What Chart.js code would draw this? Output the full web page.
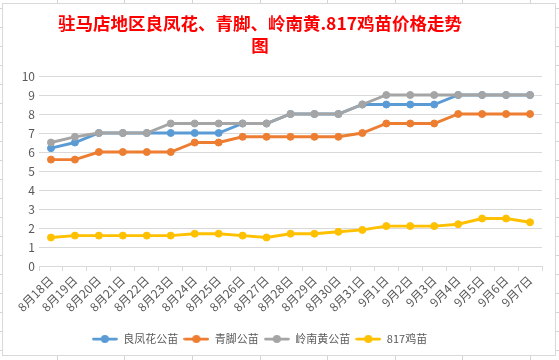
<!DOCTYPE html>
<html>
<head>
<meta charset="utf-8">
<script src="https://cdn.jsdelivr.net/npm/chart.js@4/dist/chart.umd.min.js"></script>
<style>
  html, body { margin: 0; padding: 0; }
  body {
    width: 559px; height: 360px; overflow: hidden; position: relative;
    background-color: #fff;
    background-image:
      repeating-linear-gradient(90deg, transparent 0, transparent 57px, #d4d4d4 57px, #d4d4d4 58px, transparent 58px, transparent 67.5px),
      repeating-linear-gradient(180deg, transparent 0, transparent 8px, #d4d4d4 8px, #d4d4d4 9px, transparent 9px, transparent 19px);
  }
  #box {
    position: absolute; left: 2px; top: 3px; width: 554px; height: 353px;
    box-sizing: border-box; border: 1px solid #d9d9d9; background: #fff;
  }
  #c { display: block; }
</style>
</head>
<body>
<div id="box"><canvas id="c" width="552" height="351"></canvas></div>
<script>
const categories = ["8月18日","8月19日","8月20日","8月21日","8月22日","8月23日","8月24日","8月25日","8月26日","8月27日","8月28日","8月29日","8月30日","8月31日","9月1日","9月2日","9月3日","9月4日","9月5日","9月6日","9月7日"];
const liangfenghua = [6.2,6.5,7,7,7,7,7,7,7.5,7.5,8,8,8,8.5,8.5,8.5,8.5,9,9,9,9];
const qingjiao     = [5.6,5.6,6,6,6,6,6.5,6.5,6.8,6.8,6.8,6.8,6.8,7,7.5,7.5,7.5,8,8,8,8];
const lingnanhuang = [6.5,6.8,7,7,7,7.5,7.5,7.5,7.5,7.5,8,8,8,8.5,9,9,9,9,9,9,9];
const ji817        = [1.5,1.6,1.6,1.6,1.6,1.6,1.7,1.7,1.6,1.5,1.7,1.7,1.8,1.9,2.1,2.1,2.1,2.2,2.5,2.5,2.3];
const seriesNames = ["良凤花公苗","青脚公苗","岭南黄公苗","817鸡苗"];
const seriesColors = ["#5B9BD5","#ED7D31","#A5A5A5","#FFC000"];
const titleLines = ["驻马店地区良凤花、青脚、岭南黄.817鸡苗价格走势","图"];
const yTicks = [0,1,2,3,4,5,6,7,8,9,10];

const FONT = '"Noto Sans CJK SC", "Microsoft YaHei", sans-serif';

function legendIcon(color) {
  const cv = document.createElement('canvas');
  cv.width = 26; cv.height = 10;
  const x = cv.getContext('2d');
  x.strokeStyle = color; x.lineWidth = 2.75; x.lineCap = 'round';
  x.beginPath(); x.moveTo(1.5, 5); x.lineTo(24.5, 5); x.stroke();
  x.fillStyle = color;
  x.beginPath(); x.arc(13, 5, 4, 0, Math.PI * 2); x.fill();
  return cv;
}
const icons = seriesColors.map(legendIcon);

const allSeries = [liangfenghua, qingjiao, lingnanhuang, ji817];
const datasets = allSeries.map((d, i) => ({
  label: seriesNames[i],
  data: d,
  borderColor: seriesColors[i],
  backgroundColor: seriesColors[i],
  pointBackgroundColor: seriesColors[i],
  pointBorderColor: seriesColors[i],
  borderWidth: 2.9,
  pointRadius: 3.5,
  pointBorderWidth: 1,
  tension: 0,
  fill: false,
  order: 3 - i
}));

const titlePlugin = {
  id: 'excelTitle',
  afterLayout(chart) {
    const l = chart.legend;
    if (l) { l.left -= 13; l.right -= 13; }
  },
  afterDraw(chart) {
    const ctx = chart.ctx;
    ctx.save();
    ctx.font = 'bold 17.5px ' + FONT;
    ctx.fillStyle = '#FF0000';
    ctx.textAlign = 'center';
    ctx.textBaseline = 'middle';
    ctx.fillText(titleLines[0], 257, 19.5);
    ctx.fillText(titleLines[1], 257, 41.5);
    ctx.restore();
  }
};

new Chart(document.getElementById('c'), {
  type: 'line',
  data: { labels: categories, datasets },
  plugins: [titlePlugin],
  options: {
    responsive: false,
    animation: false,
    devicePixelRatio: 1,
    layout: { padding: { left: 0, right: 13, top: 72, bottom: 0.5 } },
    plugins: {
      title: { display: false },
      legend: {
        position: 'bottom',
        labels: {
          color: '#595959',
          font: { family: FONT, size: 11 },
          usePointStyle: true,
          pointStyleWidth: 26,
          boxHeight: 10,
          padding: 5,
          sort: (a, b) => a.datasetIndex - b.datasetIndex,
          generateLabels: (chart) => {
            const items = Chart.defaults.plugins.legend.labels.generateLabels(chart);
            items.forEach((it) => { it.pointStyle = icons[it.datasetIndex]; });
            return items;
          }
        }
      },
      tooltip: { enabled: false }
    },
    scales: {
      x: {
        offset: true,
        grid: { display: true, offset: true, drawOnChartArea: false, color: '#d9d9d9', tickLength: 5 },
        border: { display: true, color: '#d9d9d9' },
        ticks: {
          color: '#595959', font: { family: FONT, size: 12 },
          minRotation: 45, maxRotation: 45, autoSkip: false, padding: 2
        },
        afterFit: (s) => { s.height = 62.5; }
      },
      y: {
        min: 0, max: 10,
        afterBuildTicks: (s) => { s.ticks = yTicks.map(v => ({ value: v })); },
        grid: { color: '#d9d9d9', drawTicks: false },
        border: { display: false },
        ticks: { color: '#595959', font: { family: FONT, size: 12 }, padding: 4 },
        afterFit: (s) => { s.width = 36; }
      }
    }
  }
});
</script>
</body>
</html>
